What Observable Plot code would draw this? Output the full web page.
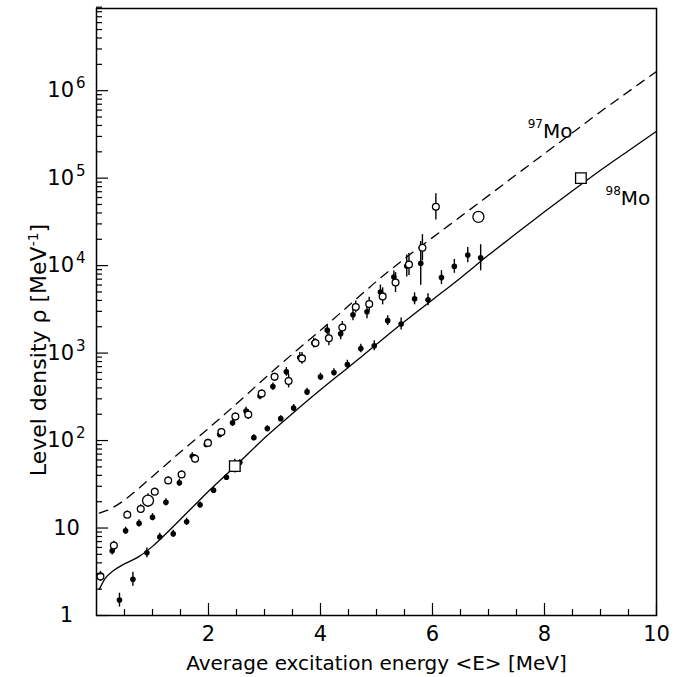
<!DOCTYPE html>
<html><head><meta charset="utf-8">
<script src="https://cdn.jsdelivr.net/npm/d3@7"></script>
<script src="https://cdn.jsdelivr.net/npm/@observablehq/plot@0.6"></script>
<style>body{margin:0;background:#fff} svg{display:block}</style>
</head><body><div id="chart"></div>
<script>
const curve98E   = [0.05, 0.15, 0.3, 0.5, 0.75, 1.0, 1.25, 1.5, 1.75, 2.0, 2.5, 3.0, 3.5, 4.0, 4.5, 5.0, 5.5, 6.0, 6.5, 7.0, 7.5, 8.0, 8.5, 9.0, 9.5, 10.0];
const curve98Rho = [2.0, 2.63, 3.24, 3.89, 4.68, 6.17, 8.71, 12.6, 18.2, 26.3, 52.5, 107, 204, 380, 690, 1260, 2290, 4070, 7240, 13200, 23400, 41200, 71600, 123000, 206000, 343000];
const curve97E   = [0.05, 0.25, 0.5, 0.75, 1.0, 1.5, 2.0, 2.5, 3.0, 3.5, 4.0, 4.5, 5.0, 5.5, 6.0, 6.5, 7.0, 7.5, 8.0, 8.5, 9.0, 9.5, 10.0];
const curve97Rho = [14.8, 16.6, 20.9, 28.2, 38.9, 74, 138, 263, 513, 977, 1820, 3470, 6610, 12000, 20900, 36300, 63100, 110000, 191000, 331000, 575000, 977000, 1660000];

// ---- filled points, lower branch ----
const fillAE   = [0.41, 0.65, 0.90, 1.13, 1.37, 1.61, 1.85, 2.09, 2.32, 2.56, 2.81, 3.05, 3.29, 3.52, 3.76, 4.00, 4.24, 4.48, 4.72, 4.96, 5.20, 5.44, 5.68, 5.92, 6.16, 6.39, 6.63, 6.86];
const fillARho = [1.5, 2.6, 5.2, 7.9, 8.6, 11.8, 18.4, 27, 38, 56, 108, 137, 178, 235, 360, 535, 600, 740, 1130, 1210, 2350, 2150, 4170, 4070, 7300, 9800, 13200, 12300];
const fillAErr = [0.2, 0.2, 0.14, 0.1, 0.1, 0.1, 0.08, 0.08, 0.08, 0.08, 0.08, 0.08, 0.08, 0.1, 0.1, 0.1, 0.1, 0.12, 0.12, 0.14, 0.14, 0.17, 0.17, 0.17, 0.2, 0.2, 0.22, 0.41];
// ---- filled points, upper branch ----
const fillBE   = [0.28, 0.52, 0.76, 1.00, 1.24, 1.48, 1.71, 1.96, 2.20, 2.43, 2.67, 2.92, 3.15, 3.39, 3.63, 3.88, 4.12, 4.36, 4.58, 4.83, 5.07, 5.31, 5.54, 5.79];
const fillBRho = [5.5, 9.3, 11.3, 13.3, 19.7, 33, 66, 90, 117, 160, 218, 323, 414, 610, 890, 1300, 1830, 1660, 2740, 2970, 4990, 7400, 9900, 10600];
const fillBErr = [0.12, 0.1, 0.1, 0.1, 0.1, 0.1, 0.1, 0.08, 0.08, 0.1, 0.1, 0.1, 0.1, 0.12, 0.14, 0.14, 0.14, 0.17, 0.17, 0.2, 0.2, 0.17, 0.34, 0.78];
// ---- open circles (97Mo) ----
const openE   = [0.07, 0.31, 0.55, 0.79, 1.04, 1.28, 1.52, 1.76, 1.99, 2.23, 2.48, 2.71, 2.95, 3.18, 3.43, 3.67, 3.91, 4.15, 4.39, 4.63, 4.87, 5.11, 5.34, 5.58, 5.82, 6.06];
const openRho = [2.8, 6.3, 14.2, 16.5, 26, 35, 41, 62, 94, 125, 188, 198, 345, 535, 480, 870, 1300, 1480, 1960, 3370, 3630, 4450, 6400, 10300, 16000, 47000];
const openErr = [0.14, 0.12, 0.1, 0.12, 0.1, 0.1, 0.1, 0.12, 0.1, 0.1, 0.1, 0.14, 0.1, 0.1, 0.2, 0.17, 0.12, 0.22, 0.17, 0.17, 0.2, 0.25, 0.3, 0.34, 0.41, 0.41];
// ---- large open circles and squares ----
const bigE   = [0.92, 6.82];
const bigRho = [20.6, 36000];
const bigErr = [0.2, 0];
const sqE   = [2.47, 8.65];
const sqRho = [51, 100000];
const sqErr = [0.2, 0];

// ---- axes ----
const yTickVals  = [1, 10, 100, 1000, 10000, 100000, 1000000];
const yTickText  = ["1", "10", "10^2", "10^3", "10^4", "10^5", "10^6"];
const xTickVals  = [2, 4, 6, 8, 10];
const xMinorVals = [0.5, 1, 1.5, 2.5, 3, 3.5, 4.5, 5, 5.5, 6.5, 7, 7.5, 8.5, 9, 9.5];
const yMinorVals = [];
for (let d = 1; d < 1e7; d *= 10) for (let k = 2; k <= 9; k++) yMinorVals.push(k * d);
const xTitle = "Average excitation energy <E> [MeV]";
const yTitle = "Level density ρ [MeV^-1]";
const labels = [{E: 7.70, rho: 340000, text: "97Mo"}, {E: 9.09, rho: 59000, text: "98Mo"}];

const tbl = (E, R, Er) => E.map((e, i) => ({E: e, rho: R[i], err: Er ? Er[i] : 0}));
const c98 = tbl(curve98E, curve98Rho), c97 = tbl(curve97E, curve97Rho);
const fA = tbl(fillAE, fillARho, fillAErr), fB = tbl(fillBE, fillBRho, fillBErr);
const op = tbl(openE, openRho, openErr), bg = tbl(bigE, bigRho, bigErr), sq = tbl(sqE, sqRho, sqErr);
const withErr = [...fA, ...fB, ...op, ...bg, ...sq].filter(d => d.err > 0);

const W = 681, H = 677, mL = 96, mR = 25, mT = 8, mB = 62;
const pw = W - mL - mR, ph = H - mT - mB;

const svg = Plot.plot({
  width: W, height: H,
  marginLeft: mL, marginRight: mR, marginTop: mT, marginBottom: mB,
  style: {fontFamily: "DejaVu Sans", fontSize: "21px", background: "white", color: "black"},
  x: {domain: [0, 10], axis: null},
  y: {type: "log", domain: [1, 8.7e6], axis: null},
  marks: [
    Plot.line(c97, {x: "E", y: "rho", curve: "monotone-x", stroke: "black", strokeWidth: 1.3, strokeDasharray: "9,7"}),
    Plot.line(c98, {x: "E", y: "rho", curve: "monotone-x", stroke: "black", strokeWidth: 1.3}),
    Plot.ruleX(withErr, {x: "E", y1: d => d.rho / (1 + d.err), y2: d => d.rho * (1 + d.err), stroke: "black", strokeWidth: 1.4}),
    Plot.dot([...fA, ...fB], {x: "E", y: "rho", r: 2.8, fill: "black", stroke: "none"}),
    Plot.dot(op, {x: "E", y: "rho", r: 3.4, fill: "white", stroke: "black", strokeWidth: 1.3}),
    Plot.dot(bg, {x: "E", y: "rho", r: 5.5, fill: "white", stroke: "black", strokeWidth: 1.3}),
    Plot.dot(sq, {x: "E", y: "rho", r: 6, symbol: "square", fill: "white", stroke: "black", strokeWidth: 1.3}),
    // ticks (inside)
    Plot.tickY(yTickVals, {y: d => d, insetRight: pw - 12, stroke: "black", strokeWidth: 1.2}),
    Plot.tickY(yMinorVals, {y: d => d, insetRight: pw - 6, stroke: "black", strokeWidth: 1.2}),
    Plot.tickX(xTickVals, {x: d => d, insetTop: ph - 12, stroke: "black", strokeWidth: 1.2}),
    Plot.tickX(xMinorVals, {x: d => d, insetTop: ph - 6, stroke: "black", strokeWidth: 1.2}),
    Plot.frame({stroke: "black", strokeWidth: 1.5}),
    // tick labels
    Plot.axisX({ticks: xTickVals, tickSize: 0, tickPadding: 11, tickFormat: d => String(d), label: null, fontSize: 21}),
    Plot.text(yTickVals, {y: d => d, frameAnchor: "left", dx: -30, text: (d, i) => yTickText[i], textAnchor: "middle", lineAnchor: "middle", fontSize: 21}),
    // titles
    Plot.text([xTitle], {text: d => d, frameAnchor: "bottom", dy: 48, textAnchor: "middle", lineAnchor: "middle", fontSize: 20}),
    Plot.text([yTitle], {text: d => d, frameAnchor: "left", rotate: -90, dx: -58, dy: 38, textAnchor: "middle", lineAnchor: "middle", fontSize: 22, letterSpacing: "1px"}),
    Plot.text(labels, {x: "E", y: "rho", text: "text", textAnchor: "start", lineAnchor: "middle", fontSize: 20})
  ]
});

svg.querySelectorAll("text").forEach(t => {
  const s = t.textContent;
  let m;
  if ((m = s.match(/^10\^(\d+)$/))) {
    t.innerHTML = `10<tspan font-size="15px" dx="2" dy="-9">${m[1]}</tspan>`;
  } else if ((m = s.match(/^(\d+)(Mo)$/))) {
    t.innerHTML = `<tspan font-size="12px" dy="-10">${m[1]}</tspan><tspan dy="10">Mo</tspan>`;
  } else if (s === yTitle) {
    t.innerHTML = `Level density ρ [MeV<tspan font-size="14px" dy="-8">-1</tspan><tspan dy="8">]</tspan>`;
  }
});
document.getElementById("chart").appendChild(svg);
</script>
</body></html>
